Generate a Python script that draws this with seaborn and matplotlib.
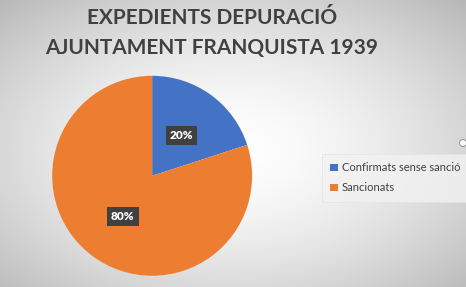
import numpy as np
import matplotlib
matplotlib.use("Agg")
import matplotlib.pyplot as plt
import seaborn as sns
from matplotlib.patches import Circle

categories = ["Confirmats sense sanció", "Sancionats"]
values = [20, 80]
title_lines = ["EXPEDIENTS DEPURACIÓ", "AJUNTAMENT FRANQUISTA 1939"]

sns.set_style("white")
plt.rcParams['font.family'] = ['Lato', 'DejaVu Sans']
colors = ["#4472C4", "#ED7D31"]

W, H = 466, 287
fig = plt.figure(figsize=(W/100, H/100), dpi=100)

# radial gradient background
bg = fig.add_axes([0, 0, 1, 1])
yy, xx = np.mgrid[0:H, 0:W]
cx, cy = 230, 150
r = np.sqrt(((xx - cx) / (W * 0.62)) ** 2 + ((yy - cy) / (H * 0.62)) ** 2)
g = 1.0 - 0.22 * np.clip(r, 0, 1.2) ** 1.6
bg.imshow(np.dstack([g, g, g]), extent=[0, W, H, 0], aspect='auto')
bg.set_xlim(0, W); bg.set_ylim(H, 0)
bg.axis('off')
bg.add_patch(Circle((463, 143), 3.5, facecolor='white', edgecolor='#9a9a9a', lw=0.8))

ax = fig.add_axes([0.112, 0.039, 0.429, 0.697])
wedges, texts, autotexts = ax.pie(values, colors=colors, startangle=90, counterclock=False,
                                  autopct='%1.0f%%', pctdistance=0.5,
                                  wedgeprops=dict(linewidth=0))
for t in autotexts:
    t.set_color('white'); t.set_fontweight('heavy'); t.set_fontsize(8.5)
    t.set_bbox(dict(boxstyle='square,pad=0.35', facecolor='#404040', edgecolor='none'))
ax.set_xlim(-1, 1); ax.set_ylim(-1, 1)
ax.set_aspect('equal')
ax.axis('off')

for i, (line, yp) in enumerate(zip(title_lines, [18, 48])):
    fig.text(212/W, 1 - yp/H, line, ha='center', va='center', fontsize=15,
             fontweight='bold', color='#404040')

leg = fig.legend(wedges, categories, loc='upper left', bbox_to_anchor=(316/W, 1 - 148/H),
                 frameon=True, fontsize=8, handlelength=0.7, handleheight=0.7,
                 handletextpad=0.3, labelspacing=0.8, borderpad=0.8, fancybox=False)
leg.get_frame().set_facecolor('#f2f2f2')
leg.get_frame().set_edgecolor('#e4e4e4')
leg.get_frame().set_linewidth(0.6)
for t in leg.get_texts():
    t.set_color('#404040')

fig.savefig('out.png', dpi=100)
